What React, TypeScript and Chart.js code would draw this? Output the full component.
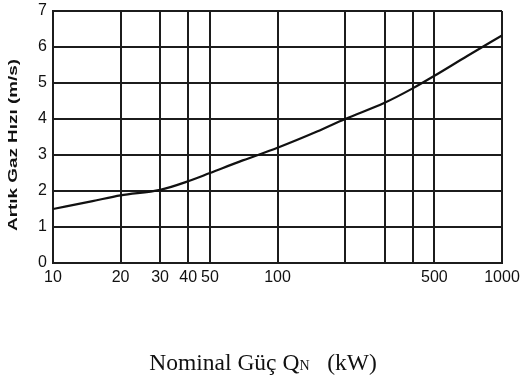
import React, { useEffect, useRef } from "react";
import { Chart, registerables } from "chart.js";

Chart.register(...registerables);

const power = [10, 15, 20, 30, 40, 50, 70, 100, 150, 200, 300, 400, 500, 700, 1000];
const speed = [1.5, 1.72, 1.88, 2.03, 2.27, 2.5, 2.85, 3.2, 3.65, 4.0, 4.45, 4.85, 5.2, 5.75, 6.32];
const xGridValues = [10, 20, 30, 40, 50, 100, 200, 300, 400, 500, 1000];
const xTickLabels = [10, 20, 30, 40, 50, 100, 500, 1000];
const yTickValues = [0, 1, 2, 3, 4, 5, 6, 7];
const yTitle = "Artık Gaz Hızı (m/s)";
const xTitleMain = "Nominal Güç Q";
const xTitleSub = "N";
const xTitleUnit = "   (kW)";

const INK = "#1c1c1c";

const titlesPlugin = {
  id: "titlesPlugin",
  afterDraw(chart: any) {
    const ctx = chart.ctx;
    ctx.save();
    ctx.fillStyle = "#111";
    // y-axis title
    ctx.save();
    ctx.translate(13, 145);
    ctx.rotate(-Math.PI / 2);
    ctx.font = 'bold 13px "Liberation Sans", Arial, sans-serif';
    const wy = ctx.measureText(yTitle).width;
    ctx.scale(172 / wy, 1);
    ctx.textAlign = "center";
    ctx.textBaseline = "middle";
    ctx.fillText(yTitle, 0, 0);
    ctx.restore();
    // x-axis title
    const big = '23.5px "Liberation Serif", "Times New Roman", serif';
    const small = '14px "Liberation Serif", "Times New Roman", serif';
    ctx.font = big;
    const w1 = ctx.measureText(xTitleMain).width;
    const w3 = ctx.measureText(xTitleUnit).width;
    ctx.font = small;
    const w2 = ctx.measureText(xTitleSub).width;
    const total = w1 + w2 + w3;
    const cx = 263;
    const base = 370;
    let x = cx - total / 2;
    ctx.textAlign = "left";
    ctx.textBaseline = "alphabetic";
    ctx.font = big;
    ctx.fillText(xTitleMain, x, base);
    x += w1;
    ctx.font = small;
    ctx.fillText(xTitleSub, x, base);
    x += w2;
    ctx.font = big;
    ctx.fillText(xTitleUnit, x, base);
    ctx.restore();
  },
};

export default function App() {
  const ref = useRef<HTMLCanvasElement | null>(null);
  useEffect(() => {
    document.body.style.margin = "0";
    const canvas = ref.current;
    if (!canvas) return;
    const chart = new Chart(canvas, {
      type: "line",
      data: {
        datasets: [
          {
            data: power.map((p, i) => ({ x: p, y: speed[i] })),
            borderColor: "#111",
            borderWidth: 2.2,
            pointRadius: 0,
            fill: false,
            cubicInterpolationMode: "monotone",
          },
        ],
      },
      options: {
        animation: false,
        responsive: false,
        maintainAspectRatio: false,
        layout: { padding: { top: 11, right: 20, left: 0, bottom: 0 } },
        plugins: {
          legend: { display: false },
          tooltip: { enabled: false },
          title: { display: false },
        },
        scales: {
          x: {
            type: "logarithmic",
            min: 10,
            max: 1000,
            afterBuildTicks: (scale: any) => {
              scale.ticks = xGridValues.map((v) => ({ value: v }));
            },
            afterFit: (scale: any) => {
              scale.height = 118;
              scale.paddingLeft = 0;
              scale.paddingRight = 0;
            },
            ticks: {
              autoSkip: false,
              maxRotation: 0,
              minRotation: 0,
              padding: 5,
              color: "#111",
              font: { family: '"Liberation Sans", Arial, sans-serif', size: 16 },
              callback: (v: any) => (xTickLabels.includes(Number(v)) ? String(v) : ""),
            },
            grid: { color: INK, lineWidth: 2, drawTicks: false },
            border: { color: INK, width: 2 },
          },
          y: {
            type: "linear",
            min: 0,
            max: 7,
            afterBuildTicks: (scale: any) => {
              scale.ticks = yTickValues.map((v) => ({ value: v }));
            },
            afterFit: (scale: any) => {
              scale.width = 53;
              scale.paddingTop = 0;
              scale.paddingBottom = 0;
            },
            ticks: {
              padding: 6,
              color: "#111",
              font: { family: '"Liberation Sans", Arial, sans-serif', size: 16 },
            },
            grid: { color: INK, lineWidth: 2, drawTicks: false },
            border: { color: INK, width: 2 },
          },
        },
      },
      plugins: [titlesPlugin],
    } as any);
    return () => chart.destroy();
  }, []);
  return (
    <div style={{ position: "fixed", left: 0, top: 0, width: 522, height: 381, background: "#fff" }}>
      <canvas ref={ref} width={522} height={381} style={{ width: 522, height: 381 }} />
    </div>
  );
}
